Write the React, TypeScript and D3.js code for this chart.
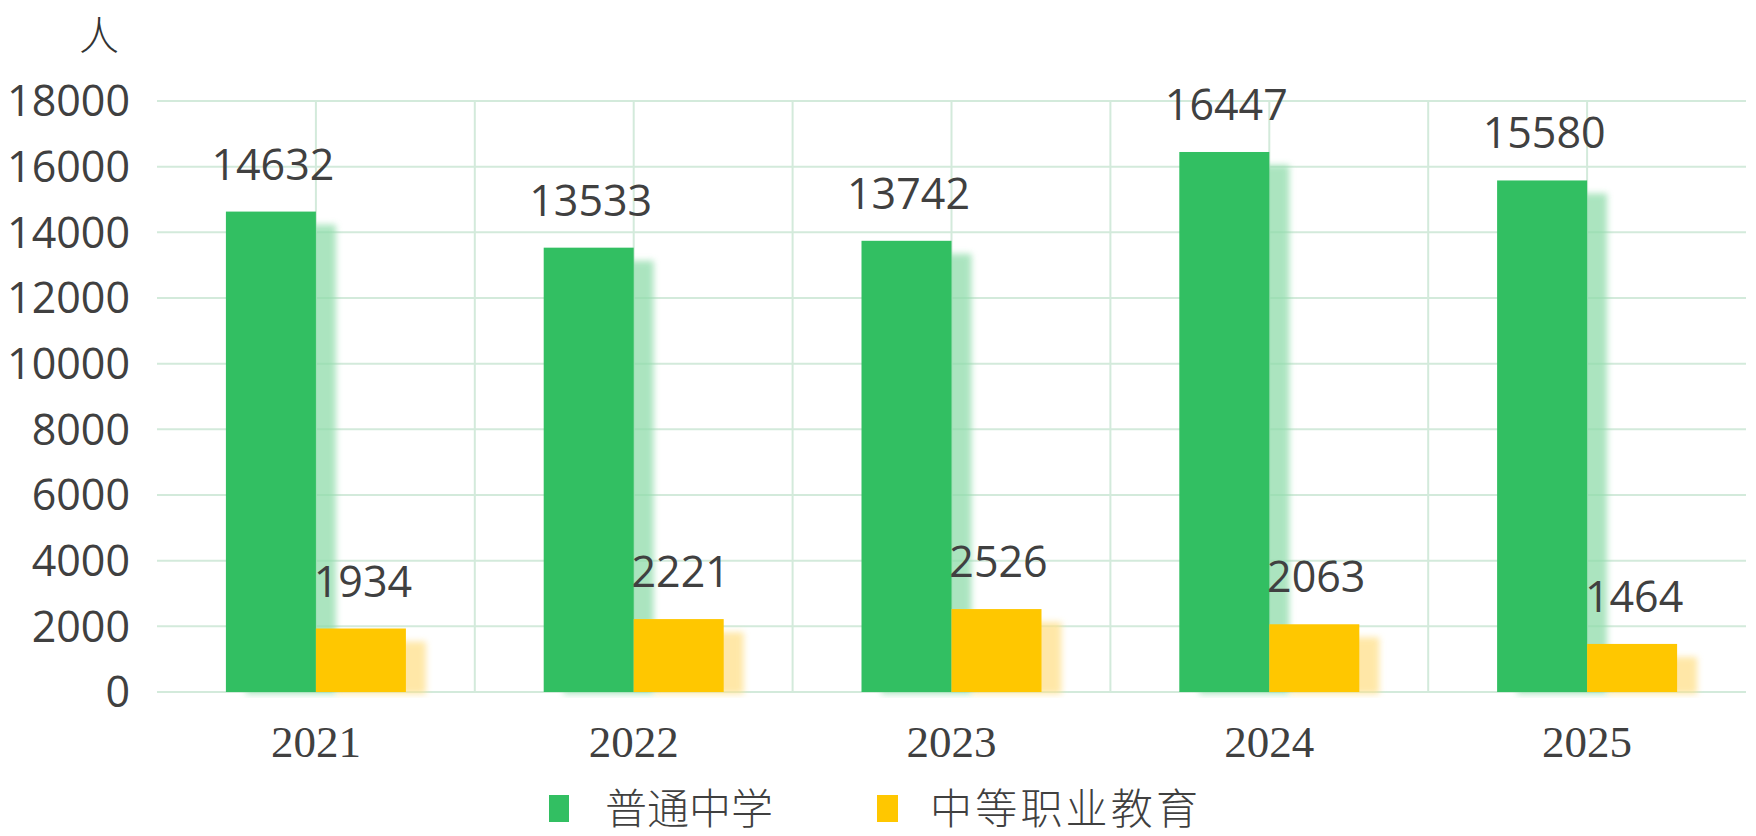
import React from "react";
import * as d3 from "d3";

const years = ["2021", "2022", "2023", "2024", "2025"];
const general = [14632, 13533, 13742, 16447, 15580];
const vocational = [1934, 2221, 2526, 2063, 1464];
const seriesNames = ["普通中学", "中等职业教育"];
const seriesColors = ["#32bf62", "#ffc700"];
const shadowColors = ["#8fdcaa", "#ffe08a"];
const yTicks = [0, 2000, 4000, 6000, 8000, 10000, 12000, 14000, 16000, 18000];
const unitLabel = "人";

const W = 1756;
const H = 836;
const left = 157;
const right = 1746;
const top = 101;
const bottom = 692;

export default function App() {
  const x = d3.scaleBand<string>().domain(years).range([left, right]).padding(0);
  const y = d3.scaleLinear().domain([0, 18000]).range([bottom, top]);
  const barW = 90;
  const series = [general, vocational];
  const lightGrid = "#d3eadb";
  const green = "#3dba6a";

  const halfLines: number[] = [];
  years.forEach((yr) => {
    halfLines.push(x(yr)! + x.bandwidth() / 2);
    if (yr !== years[0]) halfLines.push(x(yr)!);
  });

  return (
    <svg width={W} height={H} style={{ position: "absolute", left: 0, top: 0, background: "#fff" }}>
      <defs>
        <filter id="blur" x="-50%" y="-50%" width="200%" height="200%">
          <feGaussianBlur stdDeviation="3" />
        </filter>
        <linearGradient id="gTop" x1="0" x2="1" y1="0" y2="0">
          <stop offset="0" stopColor={green} />
          <stop offset="0.5" stopColor="#7cc999" />
          <stop offset="1" stopColor={lightGrid} />
        </linearGradient>
        <linearGradient id="gLeft" x1="0" x2="0" y1="0" y2="1">
          <stop offset="0" stopColor={green} />
          <stop offset="0.6" stopColor="#a8dcbc" />
          <stop offset="1" stopColor={lightGrid} />
        </linearGradient>
        <linearGradient id="gRight" x1="0" x2="0" y1="0" y2="1">
          <stop offset="0" stopColor={lightGrid} />
          <stop offset="0.5" stopColor="#a8dcbc" />
          <stop offset="1" stopColor={green} />
        </linearGradient>
        <linearGradient id="gBottom" x1="0" x2="1" y1="0" y2="0">
          <stop offset="0" stopColor={lightGrid} />
          <stop offset="0.5" stopColor="#a8dcbc" />
          <stop offset="1" stopColor={green} />
        </linearGradient>
        <clipPath id="plotClip">
          <rect x={left} y={top - 40} width={right - left} height={bottom - top + 46} />
        </clipPath>
      </defs>

      {/* gridlines */}
      {yTicks.map((t) => (
        <line key={"h" + t} x1={left} x2={right} y1={y(t)} y2={y(t)} stroke={lightGrid} strokeWidth={2} />
      ))}
      {halfLines.map((v, i) => (
        <line key={"v" + i} x1={v} x2={v} y1={top} y2={bottom} stroke={lightGrid} strokeWidth={2} />
      ))}

      {/* shadows */}
      <g clipPath="url(#plotClip)">
        {years.map((yr, i) =>
          series.map((s, k) => {
            const cx = x(yr)! + x.bandwidth() / 2;
            const bx = k === 0 ? cx - barW : cx;
            return (
              <rect
                key={"s" + yr + k}
                x={bx + 20}
                y={y(s[i]) + 13}
                width={barW}
                height={bottom - y(s[i]) - 11}
                fill={shadowColors[k]}
                opacity={0.75}
                filter="url(#blur)"
              />
            );
          })
        )}
      </g>

      {/* bars */}
      {years.map((yr, i) =>
        series.map((s, k) => {
          const cx = x(yr)! + x.bandwidth() / 2;
          const bx = k === 0 ? cx - barW : cx;
          return (
            <rect
              key={"b" + yr + k}
              x={bx}
              y={y(s[i])}
              width={barW}
              height={bottom - y(s[i])}
              fill={seriesColors[k]}
            />
          );
        })
      )}

      {/* frame */}
      <line x1={left} x2={right} y1={top} y2={top} stroke="url(#gTop)" strokeWidth={3} />
      <line x1={left} x2={left} y1={top} y2={bottom} stroke="url(#gLeft)" strokeWidth={3} />
      <line x1={right} x2={right} y1={top} y2={bottom} stroke="url(#gRight)" strokeWidth={3} />
      <line x1={left} x2={right} y1={bottom + 1} y2={bottom + 1} stroke="url(#gBottom)" strokeWidth={3} />

      {/* value labels */}
      {years.map((yr, i) =>
        series.map((s, k) => {
          const cx = x(yr)! + x.bandwidth() / 2;
          const lx = k === 0 ? cx - barW / 2 : cx + barW / 2;
          return (
            <text
              key={"l" + yr + k}
              x={lx + 2}
              y={y(s[i]) - 32}
              textAnchor="middle"
              fontFamily="'Open Sans', sans-serif"
              fontSize={43}
              fill="#404040"
            >
              {s[i]}
            </text>
          );
        })
      )}

      {/* y ticks */}
      {yTicks.map((t) => (
        <text
          key={"yt" + t}
          x={130}
          y={y(t)}
          dy="0.36em"
          textAnchor="end"
          fontFamily="'Open Sans', sans-serif"
          fontSize={43}
          fill="#404040"
        >
          {t}
        </text>
      ))}

      {/* x ticks */}
      {years.map((yr) => (
        <text
          key={"xt" + yr}
          x={x(yr)! + x.bandwidth() / 2}
          y={757}
          textAnchor="middle"
          fontFamily="'Liberation Serif', 'DejaVu Serif', serif"
          fontSize={45}
          fill="#404040"
        >
          {yr}
        </text>
      ))}

      {/* unit */}
      <text x={99} y={50} textAnchor="middle" fontFamily="'Noto Sans CJK SC', sans-serif" fontSize={40} fontWeight={300} fill="#333">
        {unitLabel}
      </text>

      {/* legend */}
      <rect x={549} y={795} width={20} height={27} fill={seriesColors[0]} />
      <text x={605} y={809} dy="0.36em" fontFamily="'Noto Sans CJK SC', sans-serif" fontSize={42} fontWeight={300} fill="#404040" textLength={168} lengthAdjust="spacing">
        {seriesNames[0]}
      </text>
      <rect x={877} y={795} width={21} height={27} fill={seriesColors[1]} />
      <text x={930} y={809} dy="0.36em" fontFamily="'Noto Sans CJK SC', sans-serif" fontSize={42} fontWeight={300} fill="#404040" textLength={268} lengthAdjust="spacing">
        {seriesNames[1]}
      </text>
    </svg>
  );
}
